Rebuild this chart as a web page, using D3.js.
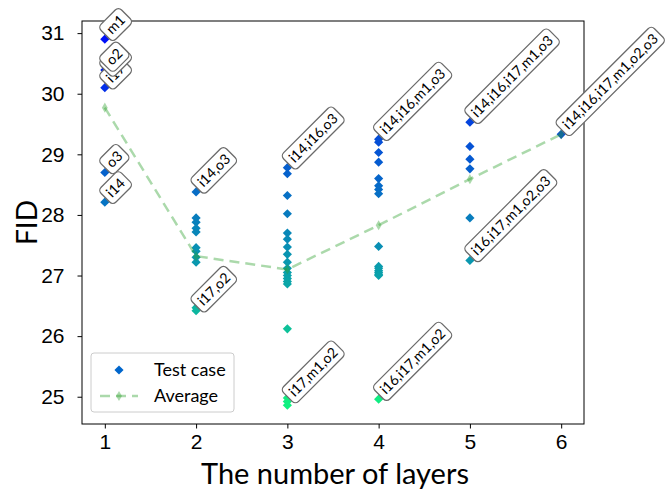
<!DOCTYPE html>
<html>
<head>
<meta charset="utf-8">
<script src="https://cdn.jsdelivr.net/npm/d3@7"></script>
<style>
  body { margin: 0; background: #fff; }
  svg { font-family: Lato, "Open Sans", sans-serif; }
</style>
</head>
<body>
<svg id="chart" width="665" height="494"></svg>
<script>
// number of layers on the x axis
const layers = [1, 2, 3, 4, 5, 6];

// FID of every test case, one array per number of layers
const fidL1 = [30.90, 30.39, 30.31, 30.10, 28.70, 28.21];
const fidL2 = [28.38, 27.95, 27.88, 27.78, 27.72, 27.46, 27.40, 27.30, 27.22, 26.66, 26.58, 26.47, 26.42];
const fidL3 = [28.78, 28.68, 28.32, 28.02, 27.70, 27.60, 27.47, 27.35, 27.22, 27.12, 27.05, 27.00, 26.95, 26.90, 26.86, 26.12, 24.98, 24.92, 24.86];
const fidL4 = [29.25, 29.20, 29.03, 28.87, 28.60, 28.48, 28.42, 28.35, 27.48, 27.15, 27.12, 27.08, 27.05, 27.02, 27.00, 24.96];
const fidL5 = [29.53, 29.13, 28.92, 28.76, 27.95, 27.25];
const fidL6 = [29.33];
const fidByLayer = [fidL1, fidL2, fidL3, fidL4, fidL5, fidL6];

// average FID per number of layers
const avgFid = [29.77, 27.32, 27.10, 27.83, 28.59, 29.33];

// annotated test cases
const noteLayer = [1, 1, 1, 1, 1, 1, 2, 2, 3, 3, 4, 4, 5, 5, 6];
const noteFid = [30.10, 30.31, 30.90, 30.39, 28.70, 28.21, 28.38, 26.42, 28.78, 24.92, 29.25, 24.96, 29.53, 27.25, 29.33];
const noteText = ["i17", "i16", "m1", "o2", "o3", "i14", "i14,o3", "i17,o2", "i14,i16,o3", "i17,m1,o2",
  "i14,i16,m1,o3", "i16,i17,m1,o2", "i14,i16,i17,m1,o3", "i16,i17,m1,o2,o3", "i14,i16,i17,m1,o2,o3"];

const yTicks = [25, 26, 27, 28, 29, 30, 31];

const svg = d3.select("#chart");
const plotL = 82, plotR = 584, plotT = 21, plotB = 424;

const x = d3.scaleLinear().domain([0.75, 6.25]).range([plotL, plotR]);
const y = d3.scaleLinear().domain([24.55, 31.2]).range([plotB, plotT]);

const allFid = fidByLayer.flat();
const color = d3.scaleLinear()
    .domain([d3.max(allFid), d3.min(allFid)])
    .range(["#0010f8", "#10f080"]);

// axes
const xAxis = svg.append("g")
    .attr("transform", `translate(0,${plotB})`)
    .call(d3.axisBottom(x).tickValues(layers).tickSize(4.5).tickPadding(5).tickFormat(d3.format("d")));
const yAxis = svg.append("g")
    .attr("transform", `translate(${plotL},0)`)
    .call(d3.axisLeft(y).tickValues(yTicks).tickSize(4.5).tickPadding(13).tickFormat(d3.format("d")));
[xAxis, yAxis].forEach(a => {
    a.select(".domain").remove();
    a.selectAll(".tick line").attr("stroke", "#000").attr("stroke-width", 1);
    a.selectAll(".tick text").attr("fill", "#000").style("font-size", "21px");
});
xAxis.selectAll(".tick text").attr("dy", "0.75em");

svg.append("rect")
    .attr("x", plotL).attr("y", plotT)
    .attr("width", plotR - plotL).attr("height", plotB - plotT)
    .attr("fill", "none").attr("stroke", "#000").attr("stroke-width", 1);

// axis titles
svg.append("text")
    .attr("x", 335).attr("y", 484)
    .attr("text-anchor", "middle")
    .style("font-size", "29px")
    .text("The number of layers");
svg.append("text")
    .attr("transform", `translate(37,${(plotT + plotB) / 2}) rotate(-90)`)
    .attr("text-anchor", "middle")
    .style("font-size", "28px")
    .text("FID");

// test case points
const diamond = d3.symbol().type(d3.symbolSquare).size(42)();
const pts = [];
fidByLayer.forEach((arr, i) => arr.forEach(v => pts.push({ layer: layers[i], fid: v })));
svg.append("g").selectAll("path")
    .data(pts)
    .join("path")
    .attr("d", diamond)
    .attr("transform", d => `translate(${x(d.layer)},${y(d.fid)}) rotate(45)`)
    .attr("fill", d => color(d.fid));

// average line
const avgData = layers.map((l, i) => ({ layer: l, fid: avgFid[i] }));
svg.append("path")
    .datum(avgData)
    .attr("d", d3.line().x(d => x(d.layer)).y(d => y(d.fid)))
    .attr("fill", "none")
    .attr("stroke", "#2ca02c")
    .attr("stroke-opacity", 0.4)
    .attr("stroke-width", 2.5)
    .attr("stroke-dasharray", "10,6");
const thinDiamond = d3.symbol().type(d3.symbolDiamond).size(30)();
svg.append("g").selectAll("path")
    .data(avgData)
    .join("path")
    .attr("d", thinDiamond)
    .attr("transform", d => `translate(${x(d.layer)},${y(d.fid)})`)
    .attr("fill", "#2ca02c")
    .attr("fill-opacity", 0.4);

// annotations
const notes = noteText.map((t, i) => ({ layer: noteLayer[i], fid: noteFid[i], text: t }));
const ng = svg.append("g").selectAll("g")
    .data(notes)
    .join("g")
    .attr("transform", d => `translate(${x(d.layer) + 8},${y(d.fid) + 3}) rotate(-45)`);
ng.append("text")
    .attr("x", 4.5).attr("y", -5.5)
    .style("font-size", "14.2px")
    .attr("fill", "#000")
    .text(d => d.text);
ng.each(function () {
    const g = d3.select(this);
    const w = g.select("text").node().getComputedTextLength();
    g.insert("rect", "text")
        .attr("x", 0).attr("y", -21)
        .attr("width", w + 9).attr("height", 21)
        .attr("rx", 4.5).attr("ry", 4.5)
        .attr("fill", "#fff")
        .attr("stroke", "#6a6a6a")
        .attr("stroke-width", 1.3);
});

// legend
const lg = svg.append("g").attr("transform", "translate(91,353)");
lg.append("rect")
    .attr("width", 143).attr("height", 59)
    .attr("rx", 3)
    .attr("fill", "#fff").attr("fill-opacity", 0.8)
    .attr("stroke", "#ccc");
lg.append("path")
    .attr("d", diamond)
    .attr("transform", "translate(28,17) rotate(45)")
    .attr("fill", "#0066cc");
lg.append("line")
    .attr("x1", 9).attr("x2", 47).attr("y1", 43).attr("y2", 43)
    .attr("stroke", "#2ca02c").attr("stroke-opacity", 0.4)
    .attr("stroke-width", 2.5).attr("stroke-dasharray", "10,6");
lg.append("path")
    .attr("d", thinDiamond)
    .attr("transform", "translate(28,43)")
    .attr("fill", "#2ca02c").attr("fill-opacity", 0.4);
lg.append("text").attr("x", 63).attr("y", 23).style("font-size", "18px").text("Test case");
lg.append("text").attr("x", 63).attr("y", 49).style("font-size", "18px").text("Average");
</script>
</body>
</html>
